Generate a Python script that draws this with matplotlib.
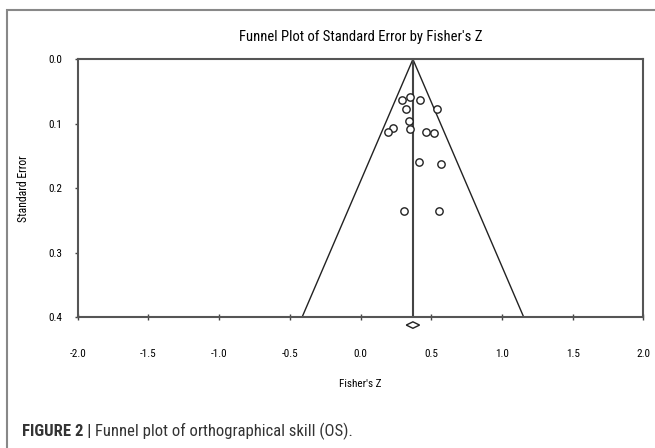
import numpy as np
import matplotlib
matplotlib.use('Agg')
import matplotlib.pyplot as plt
from matplotlib import font_manager
from matplotlib.patches import Rectangle

# study effects
fisher_z = [0.293, 0.351, 0.418, 0.321, 0.538, 0.344, 0.227, 0.192, 0.351,
            0.462, 0.521, 0.415, 0.571, 0.309, 0.556]
std_err = [0.063, 0.058, 0.063, 0.077, 0.077, 0.095, 0.107, 0.112, 0.108,
           0.113, 0.114, 0.159, 0.163, 0.235, 0.235]
mean_z = 0.37
mean_ci = 0.047
x_ticks = [-2.0, -1.5, -1.0, -0.5, 0.0, 0.5, 1.0, 1.5, 2.0]
y_ticks = [0.0, 0.1, 0.2, 0.3, 0.4]

installed = {f.name for f in font_manager.fontManager.ttflist}
candidates = ['Liberation Sans Narrow', 'DejaVu Sans Condensed', 'Roboto Condensed',
              'Liberation Sans']
narrow = [c for c in candidates if c in installed][:1] + ['DejaVu Sans']

fig = plt.figure(figsize=(6.55, 4.48), dpi=100)
ax = fig.add_axes([0.1186, 0.2917, 0.8638, 0.5759])

# funnel (95% limits) and mean line
se_max = 0.4
ax.plot([mean_z - 1.96 * se_max, mean_z, mean_z + 1.96 * se_max], [se_max, 0, se_max],
        color='#222222', lw=1.0)
ax.plot([mean_z, mean_z], [0, se_max], color='#444444', lw=1.5)

ax.scatter(fisher_z, std_err, s=28, facecolors='white', edgecolors='#222222',
           linewidths=1.0, zorder=3)

# summary diamond just under the axis
dh = 0.005
ax.fill([mean_z - mean_ci, mean_z, mean_z + mean_ci, mean_z],
        [0.412, 0.412 - dh, 0.412, 0.412 + dh],
        facecolor='white', edgecolor='#222222', lw=1.0, clip_on=False, zorder=4)

ax.set_xlim(-2.0, 2.0)
ax.set_ylim(0.4, 0.0)
ax.set_xticks(x_ticks)
ax.set_xticklabels(['%.1f' % v for v in x_ticks], family=narrow, fontsize=8)
ax.set_yticks(y_ticks)
ax.set_yticklabels(['%.1f' % v for v in y_ticks], family=narrow, fontsize=8)
ax.tick_params(axis='x', direction='inout', length=4, width=1, color='#444444', pad=21)
ax.tick_params(axis='y', direction='out', length=2, width=1, color='#444444', pad=9)
for sp in ax.spines.values():
  sp.set_color('#555555')
  sp.set_linewidth(1.5)

ax.set_xlabel("Fisher's Z", family=narrow, fontsize=8, labelpad=14)
ax.set_ylabel('Standard Error', family=narrow, fontsize=8.5, labelpad=13)
ax.set_title("Funnel Plot of Standard Error by Fisher's Z", family=narrow,
             fontsize=10.5, pad=13)

# outer frame of the figure panel (only left and top edges visible)
fig.patches.append(Rectangle((7 / 655, -0.1), 1.2, 1 - 10 / 448 + 0.1,
                             transform=fig.transFigure, fill=False,
                             edgecolor='#888888', lw=1.5))

t1 = fig.text(22 / 655, 1 - 431 / 448, 'FIGURE 2 |', family=narrow, fontsize=12,
              fontweight='bold', color='#333333', va='center')
r = fig.canvas.get_renderer()
bb = t1.get_window_extent(renderer=r)
fig.text(bb.x1 / fig.bbox.width + 4 / 655, 1 - 431 / 448,
         'Funnel plot of orthographical skill (OS).', family=narrow, fontsize=12,
         color='#333333', va='center')

fig.savefig('out.png', dpi=100)
